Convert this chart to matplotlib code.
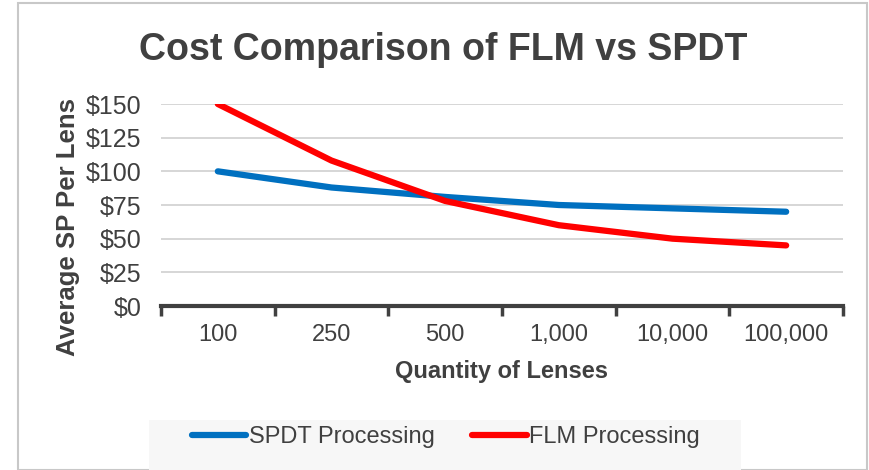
import matplotlib.pyplot as plt
from matplotlib.patches import Rectangle

categories = ['100', '250', '500', '1,000', '10,000', '100,000']
spdt = [100, 88, 81, 75, 72.5, 70]
flm = [150, 108, 78, 60, 50, 45]
yticks = [0, 25, 50, 75, 100, 125, 150]

plt.rcParams['font.family'] = ['Liberation Sans', 'DejaVu Sans']
text_col = '#404040'

fig = plt.figure(figsize=(8.7, 4.7), dpi=100)

# chart border and legend background
fig.patches.append(Rectangle((18 / 870, 0), 849 / 870, 467 / 470, transform=fig.transFigure,
                             fill=False, edgecolor='#c8c8c8', lw=1.5))
fig.patches.append(Rectangle((149 / 870, 0), 592 / 870, 50 / 470, transform=fig.transFigure,
                             facecolor='#f7f7f7', edgecolor='none'))

ax = fig.add_axes([161 / 870, 1 - 306 / 470, 682 / 870, 202 / 470])
x = range(len(categories))
ax.plot(x, spdt, color='#0070C0', lw=4.5, solid_capstyle='round', label='SPDT Processing')
ax.plot(x, flm, color='#FF0000', lw=4.5, solid_capstyle='round', label='FLM Processing')

ax.set_xlim(-0.5, len(categories) - 0.5)
ax.set_ylim(0, 150)
ax.set_yticks(yticks)
ax.set_yticklabels([f'${v}' for v in yticks], fontsize=18, color=text_col)
ax.set_xticks(list(x))
ax.set_xticklabels(categories, fontsize=17, color=text_col)
ax.set_xticks([i - 0.5 for i in range(len(categories) + 1)], minor=True)
ax.tick_params(axis='y', length=0, pad=14)
ax.tick_params(axis='x', which='major', length=0, pad=13)
ax.tick_params(axis='x', which='minor', length=7, width=2.5, color=text_col, direction='out')

ax.grid(axis='y', color='#d0d0d0', lw=1.2)
ax.set_axisbelow(True)
for s in ['top', 'right', 'left']:
    ax.spines[s].set_visible(False)
ax.spines['bottom'].set_color(text_col)
ax.spines['bottom'].set_linewidth(3)

ax.set_xlabel('Quantity of Lenses', fontsize=17, fontweight='bold', color=text_col)
ax.set_ylabel('Average SP Per Lens', fontsize=18.5, fontweight='bold', color=text_col)
ax.xaxis.set_label_coords(0.5, -(360 - 306) / 202)
ax.yaxis.set_label_coords(-(161 - 80) / 682, (306 - 227) / 202)

fig.text(443 / 870, 1 - 50 / 470, 'Cost Comparison of FLM vs SPDT', fontsize=27,
         fontweight='bold', color=text_col, ha='center', va='center')

fig.legend(loc='center', bbox_to_anchor=(446 / 870, 1 - 437 / 470), ncol=2, frameon=False,
           fontsize=17, handlelength=2.3, handletextpad=0.1, columnspacing=1.6,
           labelcolor=text_col)

fig.savefig('out.png', dpi=100)
